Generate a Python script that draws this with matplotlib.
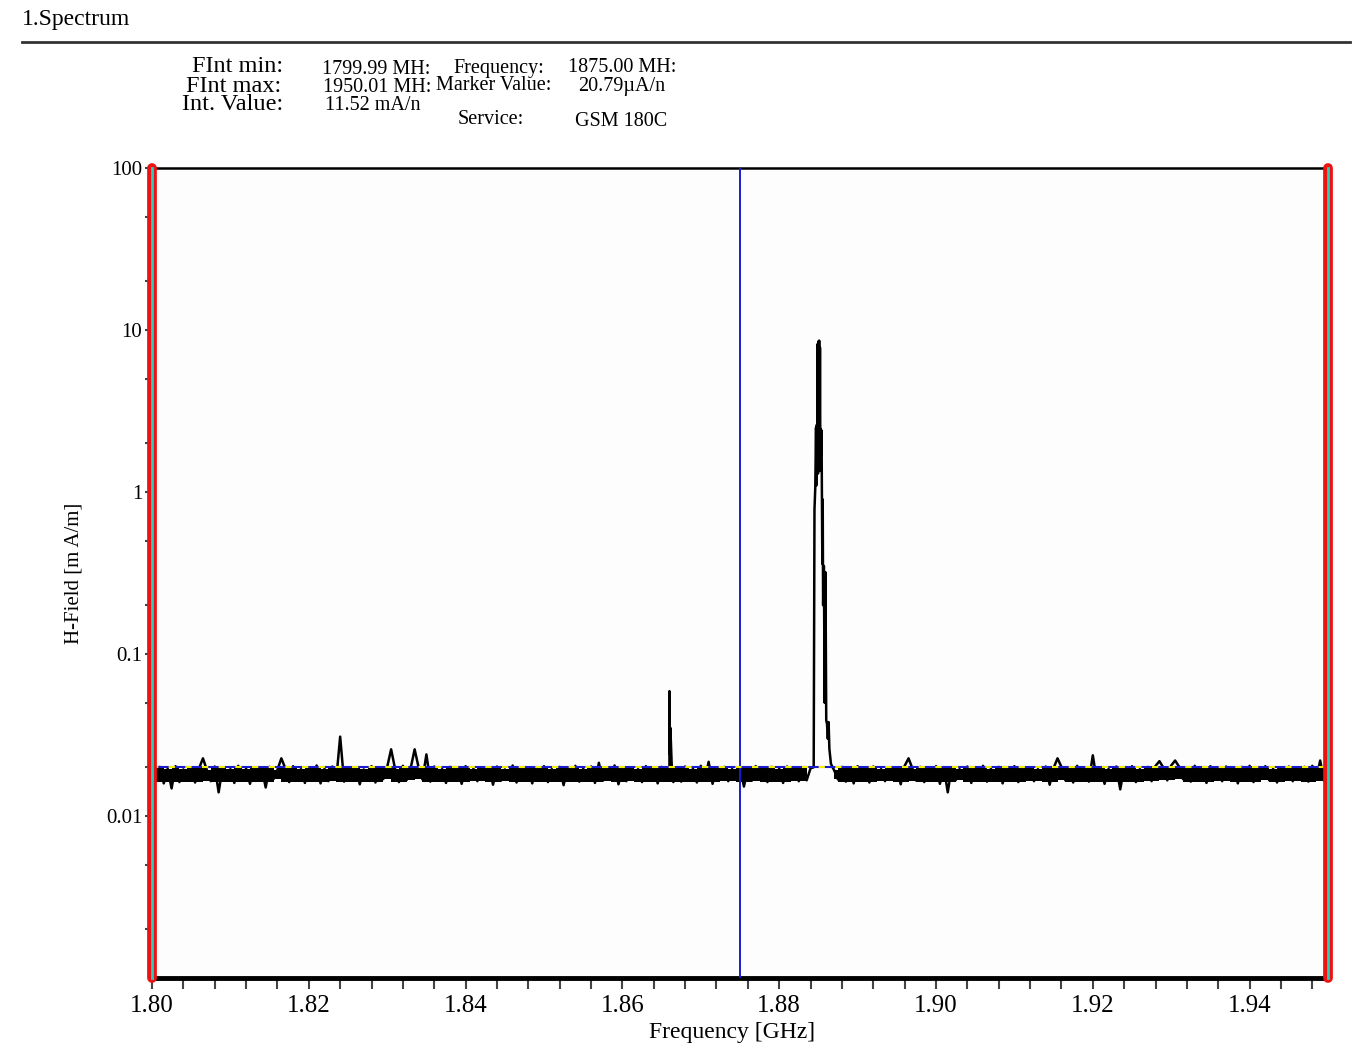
import numpy as np
import matplotlib
matplotlib.use('Agg')
import matplotlib.pyplot as plt
from matplotlib.lines import Line2D
from matplotlib.ticker import FixedLocator, NullFormatter

plt.rcParams['font.family'] = ['Liberation Serif', 'DejaVu Serif']

# sweep settings (GHz)
sweepStart = 1.8000
sweepStep = 0.0005

# noise floor, uA/m, 1.8000 -> 1.8840
floorA = [19.8, 16.5, 20.1, 15.9, 19.6, 14.8, 20.3, 16.2, 19.4, 17.0,
          20.0, 16.1, 19.7, 22.7, 19.2, 16.4, 20.2, 14.0, 19.9, 16.8,
          19.5, 16.0, 20.4, 17.1, 19.6, 15.8, 20.0, 16.6, 19.8, 15.0,
          20.1, 16.9, 19.3, 22.7, 19.7, 16.2, 20.3, 17.2, 19.5, 16.0,
          19.9, 16.7, 20.5, 15.9, 19.6, 16.4, 20.2, 16.8, 30.9, 16.3,
          19.8, 17.0, 20.0, 15.7, 19.4, 16.5, 20.3, 16.1, 19.9, 16.9,
          20.1, 25.8, 19.6, 16.2, 20.4, 16.7, 19.8, 25.8, 20.0, 16.8,
          24.0, 16.3, 20.2, 17.1, 19.5, 16.0, 20.1, 16.6, 19.7, 15.8,
          20.3, 16.9, 19.6, 16.4, 20.0, 17.0, 19.9, 15.6, 20.2, 16.5,
          19.4, 16.8, 20.5, 16.1, 19.8, 17.2, 20.0, 15.9, 19.7, 16.6,
          20.3, 16.2, 19.5, 16.9, 20.1, 15.5, 19.9, 16.7, 20.4, 16.3,
          19.6, 17.0, 20.2, 16.0, 21.3, 16.5, 19.8, 16.8, 20.5, 15.7,
          19.7, 16.4, 20.0, 17.1, 19.5, 16.2, 20.3, 16.6, 19.9, 15.9,
          20.1, 16.8, 19.8, 16.2, 20.0, 16.3, 20.2, 16.9, 19.6, 16.1,
          20.4, 16.6, 21.6, 15.8, 19.8, 17.0, 20.1, 16.4, 19.5, 16.7,
          20.0, 15.2, 19.7, 16.5, 20.3, 16.9, 19.9, 16.2, 20.1, 16.8,
          19.6, 16.0, 20.2, 16.7, 19.8, 16.4, 20.0, 16.6, 19.7]

# narrow spur near 1.866 GHz, uA/m
spurGHz = [1.86595, 1.86600, 1.86606, 1.86612, 1.86620, 1.86630]
spurVal = [18.5, 59.0, 24.0, 35.0, 27.0, 20.0]

# GSM burst, uA/m
peakGHz = [1.8844, 1.8845, 1.8846, 1.8847, 1.88475, 1.8848, 1.88485, 1.8849,
           1.88495, 1.8850, 1.88505, 1.8851, 1.88515, 1.8852, 1.88525, 1.8853,
           1.88535, 1.8854, 1.8855, 1.88555, 1.8856, 1.8857, 1.8858, 1.8859,
           1.8860, 1.8861, 1.8862, 1.8863, 1.8864, 1.8866, 1.8868]
peakVal = [20, 780, 1060, 2500, 1100, 2600, 1500, 8200,
           1300, 8500, 2000, 8600, 1400, 7800, 1350, 2450,
           1700, 2400, 360, 900, 200, 350, 50, 320,
           39, 37, 30, 38, 26, 21, 20]

# noise floor, uA/m, 1.8870 -> 1.9500
floorBStart = 1.8870
floorB = [19.2, 16.8, 20.1, 16.3, 19.7, 15.9, 20.3, 16.7, 19.9, 16.1,
          20.2, 16.9, 19.5, 16.4, 20.0, 17.0, 19.8, 15.7, 20.4, 22.7,
          19.6, 16.5, 20.1, 16.2, 19.7, 16.8, 20.3, 15.8, 19.9, 14.0,
          20.0, 16.6, 19.5, 17.1, 20.2, 16.0, 19.8, 16.7, 20.4, 16.3,
          19.6, 16.9, 20.1, 15.9, 19.9, 16.5, 20.3, 16.2, 19.7, 17.0,
          20.0, 16.4, 19.5, 16.8, 20.2, 15.6, 19.8, 22.7, 20.1, 16.6,
          19.7, 16.1, 20.4, 16.9, 19.9, 16.3, 23.7, 16.7, 20.0, 15.8,
          19.6, 16.5, 20.2, 14.6, 19.8, 16.8, 20.3, 16.2, 19.5, 17.0,
          20.1, 16.4, 20.4, 21.8, 19.9, 16.6, 20.5, 22.0, 20.2, 16.9,
          19.8, 16.3, 20.4, 17.1, 20.0, 16.0, 20.3, 16.7, 19.7, 16.4,
          20.2, 16.8, 19.9, 15.9, 20.1, 16.5, 20.4, 16.2, 19.8, 17.0,
          20.3, 16.6, 19.6, 16.1, 20.0, 16.9, 20.2, 16.4, 19.9, 16.7,
          20.1, 16.3, 20.4, 16.8, 22.0, 16.5, 19.8]

markerGHz = 1.875
refLevel = 0.0202  # mA/m
yTickVals = [0.01, 0.1, 1, 10, 100]
yTickLabels = ['0.01', '0.1', '1', '10', '100']
xTickVals = [1.80, 1.82, 1.84, 1.86, 1.88, 1.90, 1.92, 1.94]
xTickLabels = ['1.80', '1.82', '1.84', '1.86', '1.88', '1.90', '1.92', '1.94']

# build trace
fA = sweepStart + sweepStep * np.arange(len(floorA))
fB = floorBStart + sweepStep * np.arange(len(floorB))
hA = np.array(floorA) / 1000.0  # uA/m -> mA/m
hB = np.array(floorB) / 1000.0
freq = np.concatenate([fA, spurGHz, peakGHz, fB])
hfield = np.concatenate([floorA, spurVal, peakVal, floorB]) / 1000.0
order = np.argsort(freq, kind='stable')
freq, hfield = freq[order], hfield[order]

fig = plt.figure(figsize=(13.65, 10.53), dpi=100)
W, H = 1365.0, 1053.0
ax = fig.add_axes([152 / W, 1 - 978 / H, (1328 - 152) / W, (978 - 168) / H])
ax.set_facecolor('#fdfdfd')

# the analyser paints many samples per pixel -> solid core of the noise band
for f, h in [(fA, hA), (fB, hB)]:
    hp = np.pad(h, 1, mode='edge')
    lo = np.minimum.reduce([hp[:-3], hp[1:-2], hp[2:-1], hp[3:]])
    hi = np.maximum(hp[1:-2], hp[2:-1])
    lo = np.clip(lo, 0.0161, 0.0186)
    hi = np.clip(hi, 0.0186, 0.0199)
    ax.fill_between(f[:-1], lo, hi, step='post', color='black', lw=0, zorder=2)

ax.plot(freq, hfield, color='black', lw=1.8, zorder=3)
ax.axhline(refLevel, color='#1a1ad0', lw=1.5, zorder=4)
ax.axhline(refLevel, color='#f0f000', lw=1.5, dashes=(3, 5), zorder=5)
ax.axvline(markerGHz, color='#1a1ad0', lw=1.4, zorder=4)

ax.set_yscale('log')
ax.set_xlim(1.80, 1.95)
ax.set_ylim(0.001, 100)

ax.set_yticks(yTickVals)
ax.set_yticklabels(yTickLabels)
ax.yaxis.set_minor_locator(FixedLocator([m * 10.0 ** e for e in range(-3, 2) for m in (2, 5)]))
ax.yaxis.set_minor_formatter(NullFormatter())
ax.set_xticks(xTickVals)
ax.set_xticklabels(xTickLabels)
ax.xaxis.set_minor_locator(FixedLocator(np.arange(1.80, 1.9501, 0.004)))

ax.tick_params(axis='y', which='both', length=5, width=1.5, color='#444444', labelsize=15, pad=2)
ax.tick_params(axis='x', which='both', length=8, width=1.5, color='#444444', labelsize=18, pad=4)

for s in ['left', 'right']:
    ax.spines[s].set_visible(False)
ax.spines['top'].set_linewidth(1.8)
ax.spines['bottom'].set_linewidth(3.5)

for xe in [1.80, 1.95]:
    ax.axvline(xe, color='#ee1111', lw=7, solid_capstyle='round', clip_on=False, zorder=6)
    ax.axvline(xe, color='#22d0c0', lw=2, clip_on=False, zorder=7)

ax.set_xlabel('Frequency [GHz]', fontsize=17)
ax.xaxis.set_label_coords((732 - 152) / 1176.0, (978 - 1022) / 810.0)
ax.set_ylabel('H-Field [m A/m]', fontsize=15)
ax.yaxis.set_label_coords((84 - 152) / 1176.0, 0.5)

# header
fig.text(22 / W, 1 - 19 / H, '1.Spectrum', fontsize=17, va='center')
fig.add_artist(Line2D([22 / W, 1350 / W], [1 - 42 / H, 1 - 42 / H], color='#333333', lw=2))

def htext(x, y, s, size=14.5, ha='left'):
    fig.text(x / W, 1 - y / H, s, fontsize=size, ha=ha, va='center')

htext(283, 67, 'FInt min:', 17.5, 'right')
htext(281, 86, 'FInt max:', 17.5, 'right')
htext(283, 105, 'Int. Value:', 17.5, 'right')
htext(322, 69, '1799.99 MH:')
htext(323, 87, '1950.01 MH:')
htext(325, 106, '11.52 mA/n')
htext(453, 68, 'Frequency:')
htext(436, 85, 'Marker Value:')
htext(458, 120, 'Service:')
htext(568, 67, '1875.00 MH:')
htext(578, 86, '20.79µA/n')
htext(575, 122, 'GSM 180C')

plt.savefig('out.png', dpi=100)
